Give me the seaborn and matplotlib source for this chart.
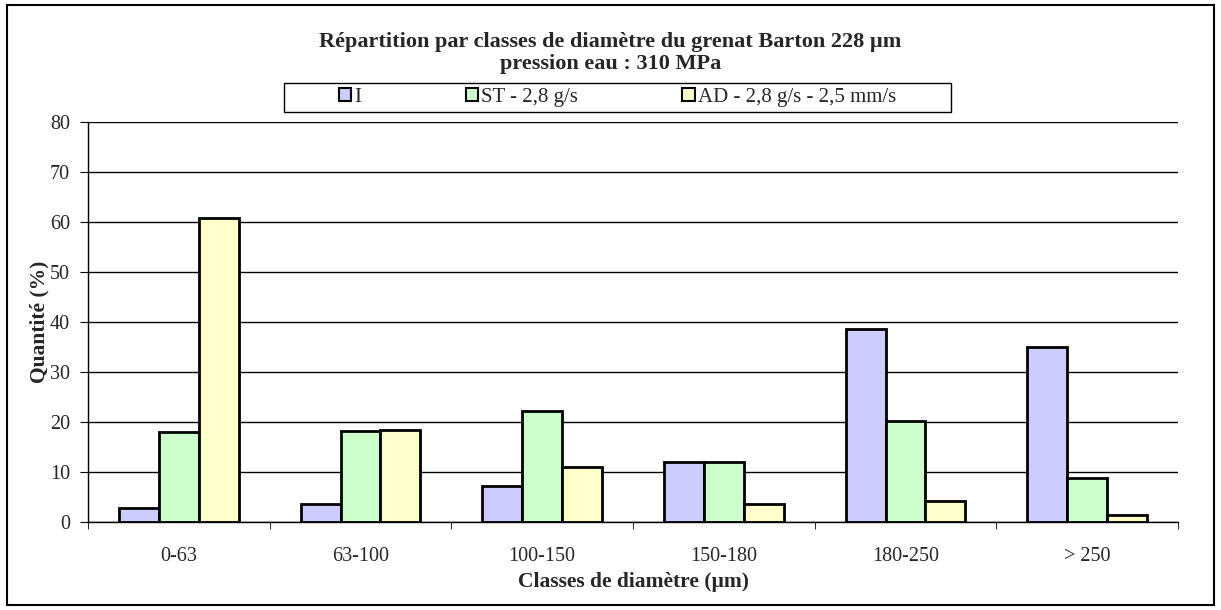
import matplotlib
matplotlib.use("Agg")
import matplotlib.pyplot as plt
import seaborn as sns
import pandas as pd
from matplotlib.patches import Rectangle

categories = ["0-63", "63-100", "100-150", "150-180", "180-250", "> 250"]
series_names = ["I", "ST - 2,8 g/s", "AD - 2,8 g/s - 2,5 mm/s"]
values_I = [2.8, 3.6, 7.3, 12.0, 38.6, 35.0]
values_ST = [18.1, 18.2, 22.2, 12.0, 20.2, 8.8]
values_AD = [60.8, 18.5, 11.0, 3.7, 4.2, 1.4]
colors = ["#CCCCFF", "#CCFFCC", "#FFFFCC"]

rows = []
for name, vals in zip(series_names, [values_I, values_ST, values_AD]):
    for c, v in zip(categories, vals):
        rows.append({"Classe": c, "Serie": name, "Valeur": v})
df = pd.DataFrame(rows)

sns.set_style("white")
plt.rcParams["font.family"] = ["Liberation Serif", "DejaVu Serif"]

W, H = 1221, 610
fig = plt.figure(figsize=(W / 100, H / 100), dpi=100)
ax = fig.add_axes([88 / W, 1 - 522 / H, 1090 / W, 400 / H])

sns.barplot(data=df, x="Classe", y="Valeur", hue="Serie", order=categories,
            hue_order=series_names, palette=colors, width=0.66, gap=0,
            edgecolor="black", linewidth=2, saturation=1, ax=ax, legend=True)

ax.set_ylim(0, 80)
ax.set_xlim(-0.5, 5.5)
ax.set_yticks(range(0, 81, 10))
ax.yaxis.grid(True, color="black", linewidth=1)
ax.set_axisbelow(True)
for s in ["top", "right"]:
    ax.spines[s].set_visible(False)
for s in ["left", "bottom"]:
    ax.spines[s].set_color("black")
    ax.spines[s].set_linewidth(1)

ax.tick_params(axis="x", which="major", length=0, labelsize=14.5, pad=18)
ax.set_xticks([i + 0.5 for i in range(-1, 6)], minor=True)
ax.tick_params(axis="x", which="minor", length=5, direction="out", color="black", bottom=True)
ax.tick_params(axis="y", length=6, direction="out", color="black", labelsize=14.5,
               left=True, pad=7)

ax.set_xlabel("Classes de diamètre (µm)", fontsize=15.5, fontweight="bold", labelpad=4)
ax.set_ylabel("Quantité (%)", fontsize=15.5, fontweight="bold", labelpad=0)

fig.text(0.5, 1 - 42 / H, "Répartition par classes de diamètre du grenat Barton 228 µm",
         ha="center", va="center", fontsize=16, fontweight="bold")
fig.text(0.5, 1 - 64.5 / H, "pression eau : 310 MPa",
         ha="center", va="center", fontsize=16, fontweight="bold")

handles, labels = ax.get_legend_handles_labels()
ax.get_legend().remove()
leg = fig.legend(handles, labels, ncol=3, loc="center",
                 bbox_to_anchor=(617.5 / W, 1 - 97.5 / H),
                 frameon=False, fontsize=15, handlelength=0.6, handleheight=0.6,
                 handletextpad=0.15, borderpad=0.2, columnspacing=5.0)
for h in leg.legend_handles:
    h.set_linewidth(1.5)

# legend frame
fig.patches.append(Rectangle((284 / W, 1 - 112 / H), 667 / W, 29 / H,
                             transform=fig.transFigure, fill=False,
                             edgecolor="black", linewidth=1))
# outer border
fig.patches.append(Rectangle((7 / W, 5 / H), 1207 / W, 600 / H,
                             transform=fig.transFigure, fill=False,
                             edgecolor="black", linewidth=1.5))

fig.savefig("out.png", dpi=100, facecolor="white")
